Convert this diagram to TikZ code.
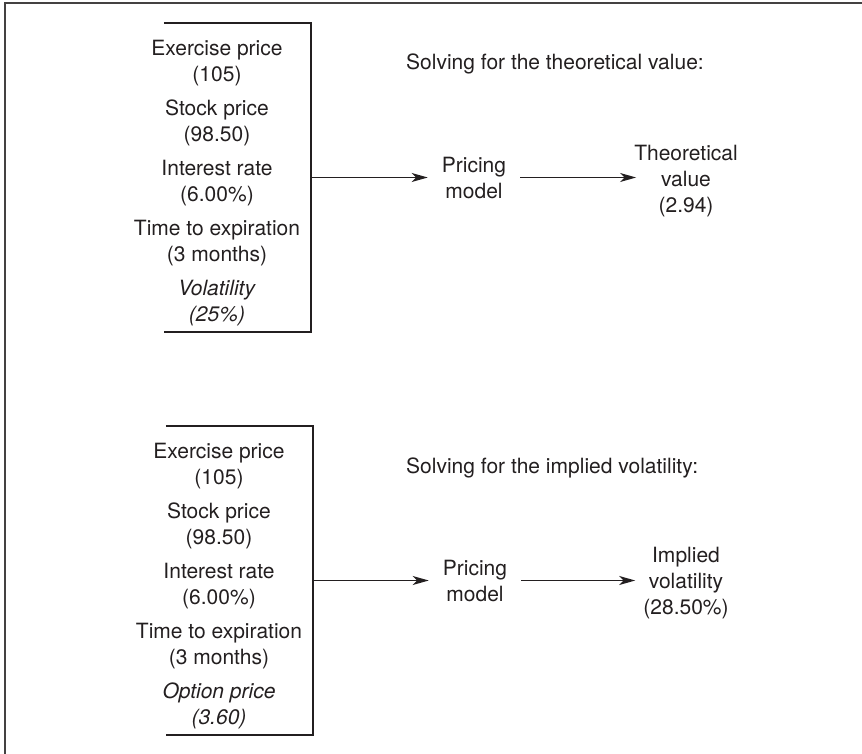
\documentclass[tikz,border=0pt]{standalone}
\usepackage{fontspec}
\setmainfont{TeX Gyre Heros}
\usetikzlibrary{arrows.meta}
\definecolor{ink}{RGB}{35,31,32}
\begin{document}
\begin{tikzpicture}[x=1pt,y=-1pt,
  every node/.style={text=ink},
  lbl/.style={font=\fontsize{21}{26}\selectfont, align=center, inner sep=0pt},
  listtxt/.style={lbl, anchor=north},
  bracket/.style={draw=ink, line width=1.6pt},
  frame/.style={draw=ink!85, line width=2pt},
  arr/.style={draw=ink, line width=1.4pt, -{Stealth[length=16pt,width=9pt,inset=4.5pt]}},
  boxshape/.style={minimum width=147pt, minimum height=309pt, inner sep=0pt, draw=none}]
\useasboundingbox (0,0) rectangle (862,754);
% outer frame (only top and left edges visible)
\coordinate (ftr) at (862,3);
\coordinate (ftl) at (5,3);
\coordinate (fbl) at (5,754);
\draw[frame] (ftr) -- (ftl) -- (fbl);

% ---------- panel 1 ----------
\node[boxshape] (box1) at (237.5,177.5) {};
\draw[bracket] (box1.north west) -- (box1.north east) -- (box1.south east) -- (box1.south west);
\node[listtxt] (in1) at (217,39.5) {Exercise price\\(105)\\[8pt]Stock price\\(98.50)\\[8pt]Interest rate\\(6.00\%)\\[8pt]Time to expiration\\(3 months)\\[8pt]\textit{Volatility}\\\textit{(25\%)}};
\node[lbl, anchor=base west] (s1) at (406,70) {Solving for the theoretical value:};
\node[lbl, inner xsep=14pt] (pm1) at (474,178) {Pricing\\model};
\node[lbl, anchor=north, inner xsep=-2pt] (tv1) at (686,144.5) {Theoretical\\value\\(2.94)};
\draw[arr] (box1.east) -- (box1.east -| pm1.west);
\draw[arr] (pm1.east |- box1.east) -- (box1.east -| tv1.west);

% ---------- panel 2 ----------
\node[boxshape] (box2) at (239.5,580.5) {};
\draw[bracket] (box2.north west) -- (box2.north east) -- (box2.south east) -- (box2.south west);
\node[listtxt] (in2) at (219,442.5) {Exercise price\\(105)\\[8pt]Stock price\\(98.50)\\[8pt]Interest rate\\(6.00\%)\\[8pt]Time to expiration\\(3 months)\\[8pt]\textit{Option price}\\\textit{(3.60)}};
\node[lbl, anchor=base west] (s2) at (406,473) {Solving for the implied volatility:};
\node[lbl, inner xsep=14pt] (pm2) at (475,581) {Pricing\\model};
\node[lbl, anchor=north, inner xsep=8pt] (iv) at (686,547) {Implied\\volatility\\(28.50\%)};
\draw[arr] (box2.east) -- (box2.east -| pm2.west);
\draw[arr] (pm2.east |- box2.east) -- (box2.east -| iv.west);
\end{tikzpicture}
\end{document}
